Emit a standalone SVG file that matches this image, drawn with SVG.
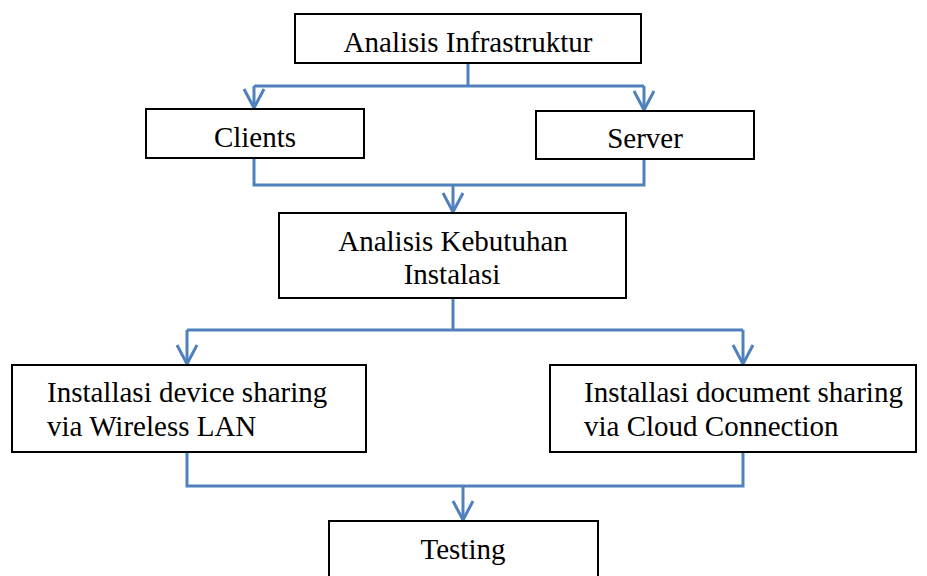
<svg xmlns="http://www.w3.org/2000/svg" width="927" height="576" viewBox="0 0 927 576">
<style>
.box{fill:#fff;stroke:#000;stroke-width:2}
.t{font-family:"Liberation Serif","Times New Roman",serif;font-size:29px;fill:#000}
.c{text-anchor:middle}
.conn{fill:none;stroke:#4F81BD;stroke-width:3}
</style>
<defs>
<marker id="arr" viewBox="0 0 24 24" markerWidth="24" markerHeight="24" refX="21" refY="12" orient="auto" markerUnits="userSpaceOnUse">
<path d="M2 2 L21 12 L2 22" fill="none" stroke="#4F81BD" stroke-width="3"/>
</marker>
</defs>
<rect width="927" height="576" fill="#fff"/>
<g id="connectors" class="conn">
<path d="M468 63 V86 M254 86 H644"/>
<path d="M254 86 V108" marker-end="url(#arr)"/>
<path d="M644 86 V110" marker-end="url(#arr)"/>
<path d="M254 158 V185 H644 V159"/>
<path d="M453 185 V212" marker-end="url(#arr)"/>
<path d="M453 298 V330 M187 330 H743"/>
<path d="M187 330 V364" marker-end="url(#arr)"/>
<path d="M743 330 V364" marker-end="url(#arr)"/>
<path d="M187 452 V486 H743 V452"/>
<path d="M463 486 V520" marker-end="url(#arr)"/>
</g>
<g id="n1"><rect class="box" x="295" y="14" width="346" height="49"/><text class="t c" x="468" y="52">Analisis Infrastruktur</text></g>
<g id="n2"><rect class="box" x="146" y="109" width="218" height="49"/><text class="t c" x="255" y="147">Clients</text></g>
<g id="n3"><rect class="box" x="536" y="111" width="218" height="48"/><text class="t c" x="645" y="148">Server</text></g>
<g id="n4"><rect class="box" x="279" y="213" width="347" height="85"/><text class="t c" x="453" y="251">Analisis Kebutuhan</text><text class="t c" x="452" y="284">Instalasi</text></g>
<g id="n5"><rect class="box" x="12" y="365" width="354" height="87"/><text class="t" x="47" y="402">Installasi device sharing</text><text class="t" x="47" y="436">via Wireless LAN</text></g>
<g id="n6"><rect class="box" x="550" y="365" width="366" height="87"/><text class="t" x="584" y="402">Installasi document sharing</text><text class="t" x="584" y="436">via Cloud Connection</text></g>
<g id="n7"><rect class="box" x="329" y="521" width="269" height="60"/><text class="t c" x="463" y="559">Testing</text></g>
</svg>
